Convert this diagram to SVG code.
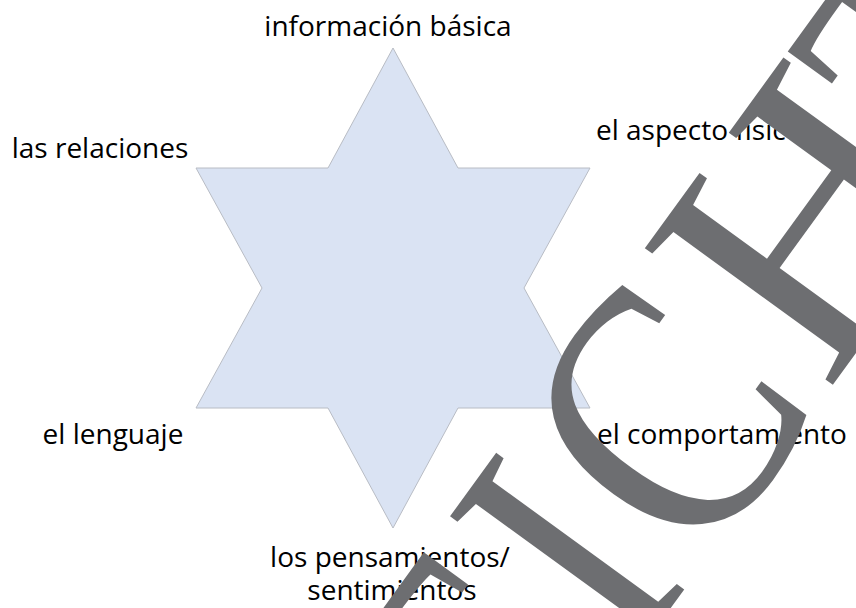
<svg xmlns="http://www.w3.org/2000/svg" width="856" height="608" viewBox="0 0 856 608">
  <style>
    .lbl { font-family: "Open Sans", "Noto Sans", "Liberation Sans", sans-serif; font-size: 28px; fill: #000000; }
    .star { fill: #dae3f3; stroke: #b8bcc4; stroke-width: 1; }
    .wm { font-family: "Liberation Serif", "Times New Roman", serif; font-size: 355px; fill: #6d6e71; }
  </style>
  <rect x="0" y="0" width="856" height="608" fill="#ffffff"/>
  <g id="star">
    <polygon class="star" points="393,48 458,168 590,168 524,288 590,408 458,408 393,528 328,408 196,408 262,288 196,168 328,168"/>
  </g>
  <g id="connectors"></g>
  <g id="label-informacion"><text class="lbl" x="388" y="36" text-anchor="middle">información básica</text></g>
  <g id="label-relaciones"><text class="lbl" x="100" y="158" text-anchor="middle">las relaciones</text></g>
  <g id="label-aspecto"><text class="lbl" x="596" y="140">el aspecto físico</text></g>
  <g id="label-lenguaje"><text class="lbl" x="113" y="444" text-anchor="middle">el lenguaje</text></g>
  <g id="label-comportamiento"><text class="lbl" x="597" y="444">el comportamiento</text></g>
  <g id="label-pensamientos">
    <text class="lbl" x="390" y="567" text-anchor="middle">los pensamientos/</text>
    <text class="lbl" x="392" y="600" text-anchor="middle">sentimientos</text>
  </g>
  <g id="watermark" transform="rotate(-54)">
    <text class="wm" transform="translate(-376,900) scale(0.845,1)">T</text>
    <text class="wm" transform="translate(-164,900) scale(0.845,1)">I</text>
    <text class="wm" transform="translate(-52,904) scale(0.88,1.03)">C</text>
    <text class="wm" transform="translate(168,900)">H</text>
    <text class="wm" transform="translate(416,900) scale(0.845,1)">T</text>
  </g>
</svg>
